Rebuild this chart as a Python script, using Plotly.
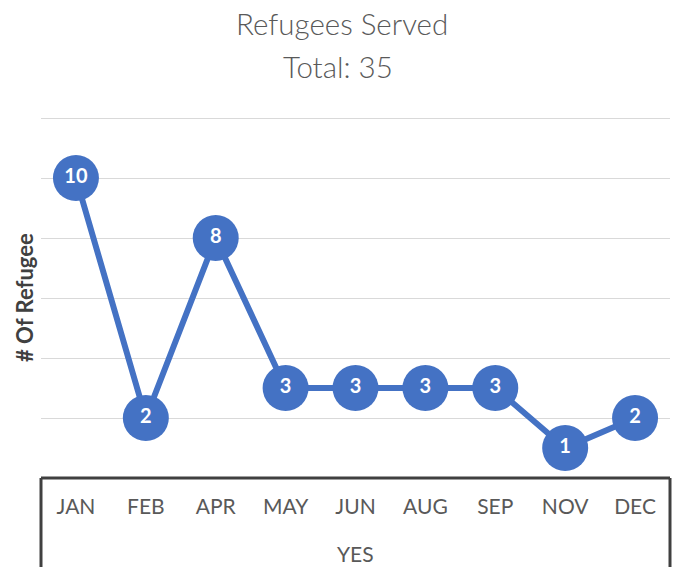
import plotly.graph_objects as go

months = ["JAN", "FEB", "APR", "MAY", "JUN", "AUG", "SEP", "NOV", "DEC"]
refugees = [10, 2, 8, 3, 3, 3, 3, 1, 2]
y_ticks = [0, 2, 4, 6, 8, 10, 12]
group_label = "YES"
y_title = "# Of Refugee"
title_line1 = "Refugees Served"
title_line2 = "Total: %d" % sum(refugees)

BLUE = "#4472C4"
FONT = "Lato"

W, H = 674, 567
Y_MAX = 12.2
L, R, B = 41, 4, 89
UNIT = 30.0  # px per unit
PH = Y_MAX * UNIT
T = H - B - PH
PW = W - L - R


def px_x(px):
    return (px - L) / PW


def px_y(py):
    return (H - B - py) / PH


fig = go.Figure()
fig.add_trace(go.Scatter(
    x=months, y=refugees,
    mode="lines+markers+text",
    line=dict(color=BLUE, width=6),
    marker=dict(size=46, color=BLUE, line=dict(width=0)),
    text=[str(v) for v in refugees],
    textposition="middle center",
    textfont=dict(family=FONT, size=20, color="white", weight="bold"),
    cliponaxis=False,
    hoverinfo="x+y",
))

fig.update_layout(
    width=W, height=H,
    margin=dict(l=L, r=R, t=T, b=B, autoexpand=False),
    paper_bgcolor="white", plot_bgcolor="white",
    showlegend=False,
    xaxis=dict(
        type="category",
        range=[-0.5, len(months) - 0.5],
        showgrid=False, zeroline=False,
        showline=False,
        ticks="",
        ticklabelstandoff=14,
        tickfont=dict(family=FONT, size=21, color="#595959"),
        automargin=False,
        fixedrange=True,
    ),
    yaxis=dict(
        range=[0, Y_MAX],
        tickvals=y_ticks,
        showgrid=True, gridcolor="#D9D9D9", gridwidth=1,
        zeroline=False, showline=False,
        showticklabels=False, ticks="",
        automargin=False,
        fixedrange=True,
    ),
)

# titles
fig.add_annotation(text=title_line1, xref="paper", yref="paper", x=px_x(342), y=px_y(24),
                   xanchor="center", yanchor="middle", showarrow=False,
                   font=dict(family=FONT, size=29.5, color="#595959", weight=300))
fig.add_annotation(text=title_line2, xref="paper", yref="paper", x=px_x(338), y=px_y(66),
                   xanchor="center", yanchor="middle", showarrow=False,
                   font=dict(family=FONT, size=29.5, color="#595959", weight=300))
fig.add_annotation(text="<b>" + y_title + "</b>", xref="paper", yref="paper", x=px_x(24), y=px_y(298),
                   xanchor="center", yanchor="middle", textangle=-90, showarrow=False,
                   font=dict(family=FONT, size=22, color="#404040"))
fig.add_annotation(text=group_label, xref="paper", yref="paper", x=px_x(355), y=px_y(553),
                   xanchor="center", yanchor="middle", showarrow=False,
                   font=dict(family=FONT, size=21, color="#595959"))

# category box outline (axis line + side borders)
line_style = dict(color="#404040", width=3)
fig.add_shape(type="line", xref="paper", yref="paper", x0=0, x1=1, y0=0, y1=0, line=line_style)
fig.add_shape(type="line", xref="paper", yref="paper", x0=0, x1=0, y0=0, y1=px_y(H + 5), line=line_style)
fig.add_shape(type="line", xref="paper", yref="paper", x0=1, x1=1, y0=0, y1=px_y(H + 5), line=line_style)

fig.write_html("out.html", config={"displayModeBar": False},
               post_script="document.body.style.margin='0';document.body.style.overflow='hidden';")
